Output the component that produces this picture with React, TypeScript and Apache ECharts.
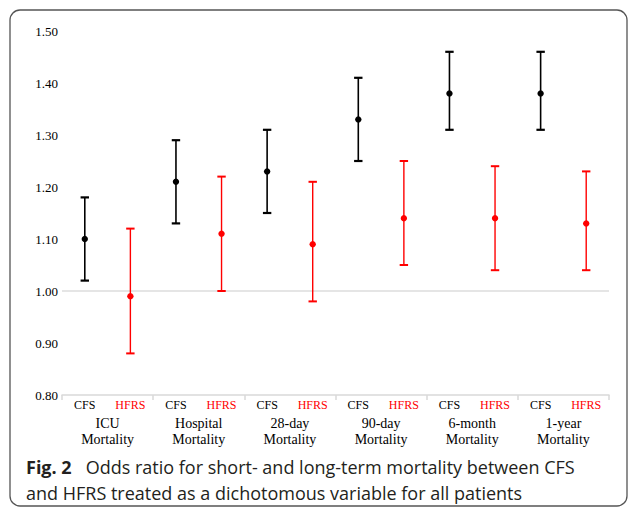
import React, { useEffect, useRef } from "react";
import * as echarts from "echarts";

const groups = ["ICU\nMortality", "Hospital\nMortality", "28-day\nMortality", "90-day\nMortality", "6-month\nMortality", "1-year\nMortality"];
const subLabels = ["CFS", "HFRS"];
const cfsOR = [1.10, 1.21, 1.23, 1.33, 1.38, 1.38];
const cfsLow = [1.02, 1.13, 1.15, 1.25, 1.31, 1.31];
const cfsHigh = [1.18, 1.29, 1.31, 1.41, 1.46, 1.46];
const hfrsOR = [0.99, 1.11, 1.09, 1.14, 1.14, 1.13];
const hfrsLow = [0.88, 1.00, 0.98, 1.05, 1.04, 1.04];
const hfrsHigh = [1.12, 1.22, 1.21, 1.25, 1.24, 1.23];
const yTicks = { min: 0.8, max: 1.5, interval: 0.1 };
const refLine = 1.0;

const subCats: string[] = [];
groups.forEach((g, i) => subLabels.forEach((s) => subCats.push(s + "-" + i)));

const cfsData = cfsOR.map((v, i) => [2 * i, cfsLow[i], cfsHigh[i], v]);
const hfrsData = hfrsOR.map((v, i) => [2 * i + 1, hfrsLow[i], hfrsHigh[i], v]);

const makeRender = (color: string, lw: number, capW: number) => (params: any, api: any) => {
  const x = api.value(0);
  const lo = api.coord([x, api.value(1)]);
  const hi = api.coord([x, api.value(2)]);
  const mid = api.coord([x, api.value(3)]);
  const half = 4.2;
  return {
    type: "group",
    children: [
      { type: "line", shape: { x1: lo[0], y1: lo[1], x2: hi[0], y2: hi[1] }, style: { stroke: color, lineWidth: lw } },
      { type: "line", shape: { x1: lo[0] - half, y1: lo[1], x2: lo[0] + half, y2: lo[1] }, style: { stroke: color, lineWidth: capW } },
      { type: "line", shape: { x1: hi[0] - half, y1: hi[1], x2: hi[0] + half, y2: hi[1] }, style: { stroke: color, lineWidth: capW } },
      { type: "circle", shape: { cx: mid[0], cy: mid[1], r: 3.2 }, style: { fill: color } },
    ],
  };
};

const serif = "'Liberation Serif', 'Times New Roman', serif";
const sans = "'Open Sans', sans-serif";

export default function App() {
  const ref = useRef<HTMLDivElement>(null);
  useEffect(() => {
    if (!ref.current) return;
    const chart = echarts.init(ref.current, null, { renderer: "svg" });
    const gridPos = { left: 62, right: 20, top: 31, bottom: 118, containLabel: false };
    chart.setOption({
      animation: false,
      backgroundColor: "#ffffff",
      grid: [gridPos, gridPos],
      xAxis: [
        {
          type: "category",
          gridIndex: 0,
          data: subCats,
          axisLine: { show: false },
          axisTick: { show: false },
          axisLabel: {
            interval: 0,
            margin: 3,
            fontFamily: serif,
            fontSize: 12,
            lineHeight: 14,
            formatter: (v: string, i: number) => (i % 2 === 0 ? "{c|" + subLabels[0] + "}" : "{h|" + subLabels[1] + "}"),
            rich: {
              c: { color: "#000000", fontFamily: serif, fontSize: 12 },
              h: { color: "#ff0000", fontFamily: serif, fontSize: 12 },
            },
          },
          splitLine: { show: false },
        },
        {
          type: "category",
          gridIndex: 1,
          data: groups,
          axisLine: { show: true, lineStyle: { color: "#d9d9d9", width: 1.5 } },
          axisTick: { show: true, length: 5, lineStyle: { color: "#d9d9d9", width: 1.5 } },
          axisLabel: {
            interval: 0,
            margin: 20,
            fontFamily: serif,
            fontSize: 14,
            lineHeight: 16,
            color: "#000000",
          },
          splitLine: { show: false },
        },
      ],
      yAxis: [
        {
          type: "value",
          gridIndex: 0,
          min: yTicks.min,
          max: yTicks.max,
          interval: yTicks.interval,
          axisLine: { show: false },
          axisTick: { show: false },
          splitLine: { show: false },
          axisLabel: {
            margin: 4,
            fontFamily: serif,
            fontSize: 13,
            color: "#000000",
            formatter: (v: number) => v.toFixed(2),
          },
        },
        {
          type: "value",
          gridIndex: 1,
          min: yTicks.min,
          max: yTicks.max,
          interval: yTicks.interval,
          show: false,
        },
      ],
      series: [
        {
          type: "custom",
          name: "CFS",
          xAxisIndex: 0,
          yAxisIndex: 0,
          renderItem: makeRender("#000000", 1.6, 2.2),
          data: cfsData,
          z: 3,
          markLine: {
            silent: true,
            symbol: "none",
            label: { show: false },
            lineStyle: { color: "#dcdcdc", width: 1.5, type: "solid" },
            data: [{ yAxis: refLine }],
            z: 1,
          },
        },
        {
          type: "custom",
          name: "HFRS",
          xAxisIndex: 0,
          yAxisIndex: 0,
          renderItem: makeRender("#ff0000", 1.4, 2.0),
          data: hfrsData,
          z: 3,
        },
      ],
      graphic: [
        {
          type: "rect",
          shape: { x: 10, y: 10, width: 617, height: 496, r: 10 },
          style: { fill: "none", stroke: "#555555", lineWidth: 1.3 },
          silent: true,
          z: 0,
        },
        {
          type: "text",
          x: 26,
          y: 467,
          style: {
            text: "{b|Fig. 2}   Odds ratio for short- and long-term mortality between CFS",
            fontFamily: sans,
            fontSize: 18,
            fill: "#231f20",
            verticalAlign: "middle",
            rich: {
              b: { fontFamily: sans, fontSize: 18, fontWeight: "bold", fill: "#231f20" },
            },
          },
        },
        {
          type: "text",
          x: 26,
          y: 493,
          style: {
            text: "and HFRS treated as a dichotomous variable for all patients",
            fontFamily: sans,
            fontSize: 18,
            fill: "#231f20",
            verticalAlign: "middle",
          },
        },
      ],
    });
    return () => chart.dispose();
  }, []);
  return <div ref={ref} style={{ position: "absolute", left: 0, top: 0, width: 629, height: 513 }} />;
}
